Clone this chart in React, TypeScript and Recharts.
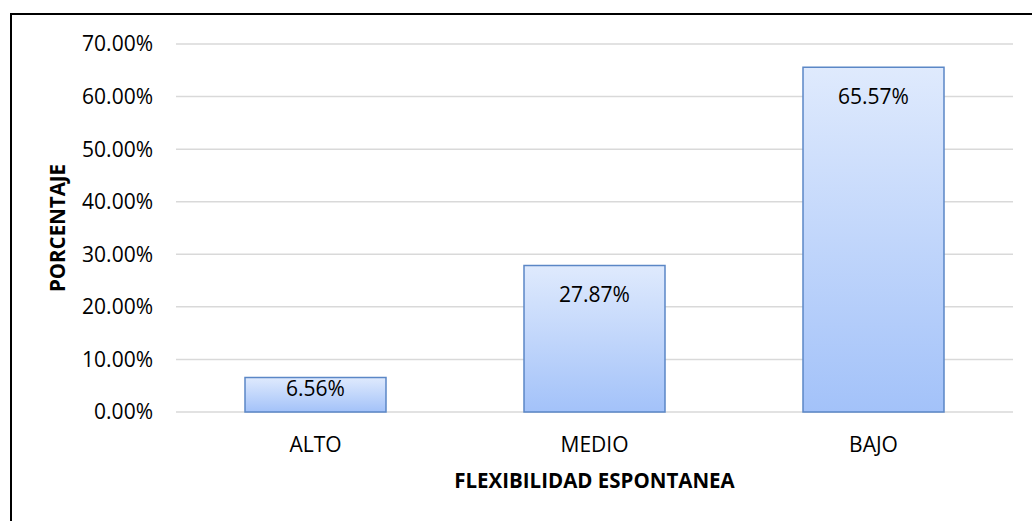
import { Bar, BarChart, CartesianGrid, Label, LabelList, XAxis, YAxis } from "recharts";

const categories = ["ALTO", "MEDIO", "BAJO"];
const percentages = [6.56, 27.87, 65.57];
const yTicks = [0, 10, 20, 30, 40, 50, 60, 70];

const data = categories.map((name, i) => ({ name, value: percentages[i] }));

const FONT = "'Open Sans', sans-serif";

function InsideLabel(props: any) {
  const { x, y, width, height, value } = props;
  const cy = y + Math.min(29, height * 0.3);
  return (
    <text
      x={x + width / 2}
      y={cy}
      textAnchor="middle"
      dominantBaseline="central"
      fontFamily={FONT}
      fontSize={21}
      fill="#000"
    >
      {`${Number(value).toFixed(2)}%`}
    </text>
  );
}

export default function App() {
  return (
    <div style={{ position: "absolute", left: 0, top: 0, width: 1032, height: 521, background: "#fff", overflow: "hidden" }}>
      <div
        style={{
          position: "absolute",
          left: 10,
          top: 13,
          width: 1100,
          height: 600,
          borderTop: "2px solid #000",
          borderLeft: "2px solid #000",
        }}
      />
      <div style={{ position: "absolute", left: 0, top: 0 }}>
        <BarChart
          width={1032}
          height={521}
          data={data}
          margin={{ top: 44, right: 19, bottom: 0, left: 0 }}
        >
          <defs>
            <linearGradient id="barFill" x1="0" y1="0" x2="0" y2="1">
              <stop offset="0%" stopColor="#dfeafd" />
              <stop offset="100%" stopColor="#a3c2f9" />
            </linearGradient>
          </defs>
          <CartesianGrid vertical={false} stroke="#d9d9d9" strokeWidth={1.5} />
          <XAxis
            dataKey="name"
            axisLine={false}
            tickLine={false}
            tickSize={0}
            tickMargin={25}
            height={109}
            tick={{ fontFamily: FONT, fontSize: 21, fill: "#000" }}
          >
            <Label
              value="FLEXIBILIDAD ESPONTANEA"
              position="insideTop"
              offset={61}
              style={{ fontFamily: FONT, fontSize: 20.5, fontWeight: 700, fill: "#000" }}
            />
          </XAxis>
          <YAxis
            domain={[0, 70]}
            ticks={yTicks}
            axisLine={false}
            tickLine={false}
            tickSize={0}
            tickMargin={23}
            width={176}
            interval={0}
            tickFormatter={(v: number) => `${v.toFixed(2)}%`}
            tick={{ fontFamily: FONT, fontSize: 21, fill: "#000" }}
          >
            <Label
              value="PORCENTAJE"
              angle={-90}
              position="insideLeft"
              offset={58}
              style={{ textAnchor: "middle", fontFamily: FONT, fontSize: 20.5, fontWeight: 700, fill: "#000" }}
            />
          </YAxis>
          <Bar
            dataKey="value"
            barSize={141}
            fill="url(#barFill)"
            stroke="#5b87c6"
            strokeWidth={1.5}
            isAnimationActive={false}
          >
            <LabelList dataKey="value" content={InsideLabel} />
          </Bar>
        </BarChart>
      </div>
    </div>
  );
}
